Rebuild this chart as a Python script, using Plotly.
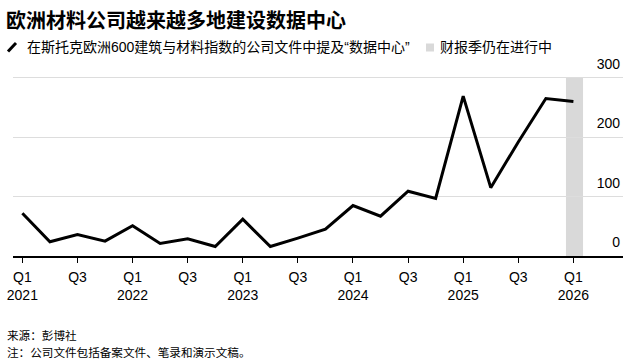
import plotly.graph_objects as go

quarters = ["2021Q1","2021Q2","2021Q3","2021Q4","2022Q1","2022Q2","2022Q3","2022Q4",
            "2023Q1","2023Q2","2023Q3","2023Q4","2024Q1","2024Q2","2024Q3","2024Q4",
            "2025Q1","2025Q2","2025Q3","2025Q4","2026Q1"]
mentions = [72, 24, 36, 25, 51, 21, 29, 16, 62, 16, 30, 45, 85, 67, 109, 97, 269, 115, 192, 265, 260]
tick_labels = ["Q1<br>2021","Q3","Q1<br>2022","Q3","Q1<br>2023","Q3","Q1<br>2024","Q3",
               "Q1<br>2025","Q3","Q1<br>2026"]
y_ticks = [0, 100, 200, 300]
in_progress = "2026Q1"

FONT = "Arial, Liberation Sans, Noto Sans CJK SC, sans-serif"
W, H = 644, 361
ML, MR, MT, MB = 13, 21, 54, 105

x_idx = list(range(len(quarters)))
prog_i = quarters.index(in_progress)

fig = go.Figure()
fig.add_trace(go.Scatter(x=x_idx, y=mentions, mode="lines",
                         line=dict(color="black", width=3), showlegend=False,
                         hoverinfo="skip"))

fig.add_shape(type="rect", xref="x", yref="y", x0=prog_i - 0.27, x1=prog_i + 0.35,
              y0=0, y1=max(y_ticks), fillcolor="#d9d9d9", line=dict(width=0), layer="below")

pw, ph = W - ML - MR, H - MT - MB
def px(x): return (x - ML) / pw
def py(y): return (H - MB - y) / ph

# legend row
fig.add_shape(type="line", xref="paper", yref="paper", x0=px(8), y0=py(51.5), x1=px(16), y1=py(43),
              line=dict(color="black", width=3))
fig.add_annotation(xref="paper", yref="paper", x=px(25), y=py(47.5), xanchor="left", yanchor="middle",
                   text="在斯托克欧洲600建筑与材料指数的公司文件中提及“数据中心”",
                   showarrow=False, font=dict(size=14, color="black", family=FONT))
fig.add_shape(type="rect", xref="paper", yref="paper", x0=px(426), y0=py(51.5), x1=px(434), y1=py(43.5),
              fillcolor="#d9d9d9", line=dict(width=0))
fig.add_annotation(xref="paper", yref="paper", x=px(438), y=py(47.5), xanchor="left", yanchor="middle",
                   text="财报季仍在进行中",
                   showarrow=False, font=dict(size=14, color="black", family=FONT))

# footer
fig.add_annotation(xref="paper", yref="paper", x=px(5), y=py(335), xanchor="left", yanchor="middle",
                   text="来源：彭博社", showarrow=False, font=dict(size=11.6, color="black", family=FONT))
fig.add_annotation(xref="paper", yref="paper", x=px(5), y=py(352), xanchor="left", yanchor="middle",
                   text="注：公司文件包括备案文件、笔录和演示文稿。", showarrow=False,
                   font=dict(size=11.6, color="black", family=FONT))

fig.update_layout(
    width=W, height=H,
    margin=dict(l=ML, r=MR, t=MT, b=MB, autoexpand=False),
    paper_bgcolor="white", plot_bgcolor="white",
    font=dict(family=FONT, color="black", size=14),
    title=dict(text="<b>欧洲材料公司越来越多地建设数据中心</b>", x=6 / W, xanchor="left",
               y=1 - 20.5 / H, yanchor="middle", font=dict(size=20, color="black", family=FONT)),
    xaxis=dict(range=[-0.34, 21.8], tickvals=x_idx[::2], ticktext=tick_labels,
               ticks="outside", ticklen=5, tickcolor="black", tickwidth=1,
               showline=True, linecolor="black", linewidth=1.5, showgrid=False,
               zeroline=False, tickfont=dict(size=14, color="black"), ticklabelstandoff=2),
    yaxis=dict(range=[0, 340], tickvals=y_ticks, side="right", ticklabelposition="inside top",
               showgrid=True, gridcolor="#dddddd", gridwidth=1, zeroline=False,
               showline=False, ticks="", tickfont=dict(size=14, color="black"), ticklabelshift=-4),
)

fig.write_html("out.html", post_script="document.body.style.margin='0px';",
               config={"displayModeBar": False})
